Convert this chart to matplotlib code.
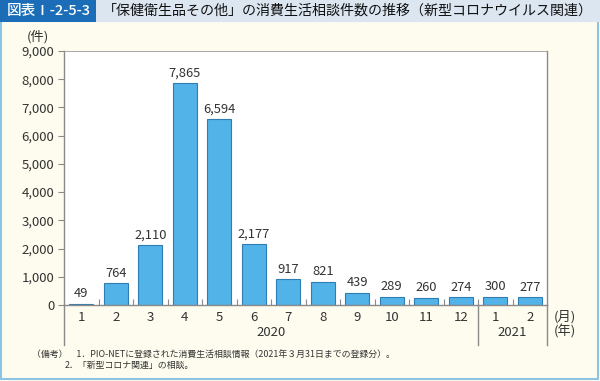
import matplotlib
matplotlib.use("Agg")
import matplotlib.pyplot as plt
from matplotlib.patches import Rectangle
from matplotlib.lines import Line2D
import matplotlib.transforms as mtransforms

plt.rcParams['font.family'] = ['Noto Sans CJK JP', 'DejaVu Sans']

# データ
months = ['1', '2', '3', '4', '5', '6', '7', '8', '9', '10', '11', '12', '1', '2']
counts = [49, 764, 2110, 7865, 6594, 2177, 917, 821, 439, 289, 260, 274, 300, 277]
years = ['2020', '2021']
year_spans = [(0, 11), (12, 13)]
yticks = [0, 1000, 2000, 3000, 4000, 5000, 6000, 7000, 8000, 9000]

bar_color = '#52b3e8'
edge_color = '#2e7db3'
axis_color = '#8a8a8a'
text_color = '#333333'

fig = plt.figure(figsize=(6.0, 3.81), dpi=100)

# 背景パネル
fig.patches.append(Rectangle((0, 0), 1, 1, transform=fig.transFigure,
                             facecolor='#fefcee', edgecolor='none', zorder=-10))
fig.patches.append(Rectangle((0.002, 0.006), 0.994, 0.94, transform=fig.transFigure,
                             facecolor='none', edgecolor='#8cc4e6', lw=1.5, zorder=-9))
# タイトルバー
fig.patches.append(Rectangle((0, 1 - 22 / 381), 1, 22 / 381, transform=fig.transFigure,
                             facecolor='#dce6f1', edgecolor='none', zorder=-8))
fig.patches.append(Rectangle((0, 1 - 22 / 381), 96 / 600, 22 / 381, transform=fig.transFigure,
                             facecolor='#1a6db6', edgecolor='none', zorder=-7))
fig.text(49 / 600, 1 - 11 / 381, '図表Ⅰ-2-5-3', color='white', fontsize=10.5,
         ha='center', va='center', weight='medium')
fig.text(103 / 600, 1 - 11 / 381,
         '「保健衛生品その他」の消費生活相談件数の推移（新型コロナウイルス関連）',
         color='#111111', fontsize=10.1, ha='left', va='center')

ax = fig.add_axes([64 / 600, 76 / 381, 483 / 600, 254 / 381])
ax.set_facecolor('white')
x = list(range(len(counts)))
ax.bar(x, counts, width=0.7, color=bar_color, edgecolor=edge_color, linewidth=0.8)
for xi, v in zip(x, counts):
    ax.text(xi, v + 120, f'{v:,}', ha='center', va='bottom', fontsize=9.3, color=text_color)

ax.set_xlim(-0.5, len(counts) - 0.5)
ax.set_ylim(0, 9000)
ax.set_yticks(yticks)
ax.set_yticklabels([f'{t:,}' for t in yticks], fontsize=9.5, color=text_color)
ax.set_xticks(x)
ax.set_xticklabels(months, fontsize=9.5, color=text_color)
ax.tick_params(axis='x', length=0, pad=4)
ax.tick_params(axis='y', length=4, width=0.8, color=axis_color, pad=3)
ax.set_xticks([i + 0.5 for i in range(len(counts) - 1)], minor=True)
ax.tick_params(axis='x', which='minor', direction='in', length=4, width=0.8, color=axis_color)

ax.spines['top'].set_color('#999999')
ax.spines['top'].set_linewidth(0.6)
for s in ['left', 'bottom', 'right']:
    ax.spines[s].set_color(axis_color)
    ax.spines[s].set_linewidth(1.0)

# 年の区切り線
trans = mtransforms.blended_transform_factory(ax.transData, ax.transAxes)
for xv in [-0.5, 11.5, 13.5]:
    ax.add_line(Line2D([xv, xv], [0, -40 / 254], transform=trans, color=axis_color,
                       lw=1.0, clip_on=False))
for yl, (a, b) in zip(years, year_spans):
    ax.text((a + b) / 2, -27 / 254, yl, transform=trans, ha='center', va='center',
            fontsize=9.5, color=text_color)
ax.text(13.5 + 0.2, -12 / 254, '(月)', transform=trans, ha='left', va='center',
        fontsize=9.5, color=text_color)
ax.text(13.5 + 0.2, -27 / 254, '(年)', transform=trans, ha='left', va='center',
        fontsize=9.5, color=text_color)
ax.text(-0.5 - 0.75, 9000 + 250, '(件)', ha='center', va='bottom', fontsize=9.5,
        color=text_color)

# 備考
fig.text(32 / 600, 1 - 354 / 381,
         '（備考）　1．PIO-NETに登録された消費生活相談情報（2021年３月31日までの登録分）。',
         fontsize=6.4, color=text_color, ha='left', va='center')
fig.text(65 / 600, 1 - 365 / 381, '2．「新型コロナ関連」の相談。',
         fontsize=6.4, color=text_color, ha='left', va='center')

fig.savefig('out.png', dpi=100)
